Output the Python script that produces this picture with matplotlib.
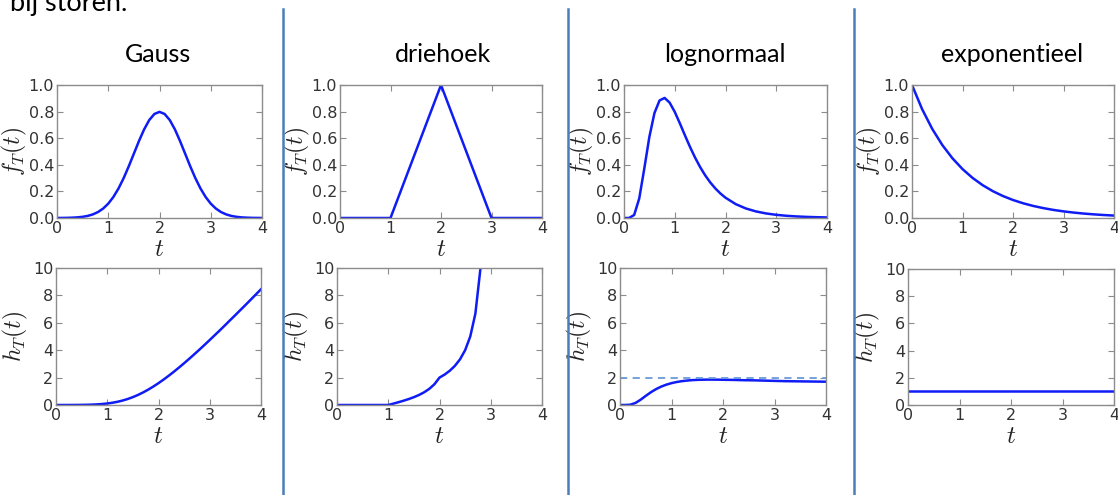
import matplotlib
matplotlib.use("Agg")
import matplotlib.pyplot as plt

plt.rcParams["mathtext.fontset"] = "cm"

W, H = 1118, 495

# ---- data -------------------------------------------------------------
titles = ["Gauss", "driehoek", "lognormaal", "exponentieel"]
t_ticks = [0, 1, 2, 3, 4]
f_ticks = [0.0, 0.2, 0.4, 0.6, 0.8, 1.0]
h_ticks = [0, 2, 4, 6, 8, 10]

t_fine = [0.0, 0.1, 0.2, 0.3, 0.4, 0.5, 0.6, 0.7, 0.8, 0.9, 1.0,
          1.1, 1.2, 1.3, 1.4, 1.5, 1.6, 1.7, 1.8, 1.9, 2.0,
          2.1, 2.2, 2.3, 2.4, 2.5, 2.6, 2.7, 2.8, 2.9, 3.0,
          3.1, 3.2, 3.3, 3.4, 3.5, 3.6, 3.7, 3.8, 3.9, 4.0]

gauss_f = [0.0003, 0.0006, 0.0012, 0.0025, 0.0048, 0.0089, 0.0158, 0.0272,
           0.0448, 0.0709, 0.1080, 0.1579, 0.2218, 0.2994, 0.3885, 0.4839,
           0.5793, 0.6664, 0.7365, 0.7821, 0.7979, 0.7821, 0.7365, 0.6664,
           0.5793, 0.4839, 0.3885, 0.2994, 0.2218, 0.1579, 0.1080, 0.0709,
           0.0448, 0.0272, 0.0158, 0.0089, 0.0048, 0.0025, 0.0012, 0.0006,
           0.0003]
gauss_h = [0.0003, 0.0006, 0.0012, 0.0025, 0.0048, 0.0089, 0.0159, 0.0273,
           0.0452, 0.0719, 0.1105, 0.1638, 0.2347, 0.3258, 0.4389, 0.5752,
           0.7351, 0.9183, 1.1238, 1.3501, 1.5958, 1.8588, 2.1375, 2.4300,
           2.7347, 3.0503, 3.3752, 3.7080, 4.0482, 4.3947, 4.7464, 5.1036,
           5.461, 5.828, 6.200, 6.566, 6.94, 7.31, 7.69, 8.07, 8.45]

tri_t = [0, 1, 2, 3, 4]
tri_f = [0, 0, 1, 0, 0]
tri_h_t = [0.0, 1.0, 1.1, 1.2, 1.3, 1.4, 1.5, 1.6, 1.7, 1.8, 1.9, 2.0,
           2.1, 2.2, 2.3, 2.4, 2.5, 2.6, 2.7, 2.8, 2.9]
tri_h = [0.0, 0.0, 0.1005, 0.2041, 0.3141, 0.4348, 0.5714, 0.7317, 0.9272,
         1.1765, 1.5126, 2.0, 2.222, 2.5, 2.857, 3.333, 4.0, 5.0, 6.667,
         10.0, 20.0]

logn_t = [0.0, 0.1, 0.2, 0.3, 0.4, 0.5, 0.6, 0.7, 0.8, 0.9, 1.0,
          1.1, 1.2, 1.3, 1.4, 1.5, 1.6, 1.7, 1.8, 1.9, 2.0,
          2.2, 2.4, 2.6, 2.8, 3.0, 3.2, 3.4, 3.6, 3.8, 4.0]
logn_f = [0.0, 0.0002, 0.0225, 0.1464, 0.3720, 0.6104, 0.7891, 0.8837,
          0.9028, 0.8670, 0.7979, 0.7123, 0.6222, 0.5348, 0.4545, 0.3829,
          0.3206, 0.2673, 0.2221, 0.1842, 0.1526, 0.1046, 0.0718, 0.0494,
          0.0342, 0.0238, 0.0167, 0.0117, 0.0083, 0.0059, 0.0043]
logn_h = [0.0, 0.0002, 0.0225, 0.1476, 0.3849, 0.6655, 0.9322, 1.1595,
          1.3428, 1.4860, 1.5958, 1.6783, 1.7395, 1.7833, 1.8144, 1.8345,
          1.8467, 1.8524, 1.8525, 1.849, 1.8423, 1.83, 1.81, 1.80, 1.78,
          1.76, 1.74, 1.73, 1.72, 1.71, 1.70]
logn_h_limit = 2.0

exp_t = [0.0, 0.2, 0.4, 0.6, 0.8, 1.0, 1.2, 1.4, 1.6, 1.8, 2.0,
         2.2, 2.4, 2.6, 2.8, 3.0, 3.2, 3.4, 3.6, 3.8, 4.0]
exp_f = [1.0, 0.8187, 0.6703, 0.5488, 0.4493, 0.3679, 0.3012, 0.2466,
         0.2019, 0.1653, 0.1353, 0.1108, 0.0907, 0.0743, 0.0608, 0.0498,
         0.0408, 0.0334, 0.0273, 0.0224, 0.0183]
exp_h_t = [0, 4]
exp_h = [1.0, 1.0]

f_series = [(t_fine, gauss_f), (tri_t, tri_f), (logn_t, logn_f), (exp_t, exp_f)]
h_series = [(t_fine, gauss_h), (tri_h_t, tri_h), (logn_t, logn_h), (exp_h_t, exp_h)]

# ---- layout (pixel boxes: left, right, top, bottom) -------------------
top_boxes = [(57, 262, 85, 218), (340, 542, 85, 218),
             (624, 827, 85, 218), (912, 1114, 85, 218)]
bot_boxes = [(56, 261, 268, 405), (337, 542, 268, 405),
             (620, 826, 268, 405), (908, 1114, 269, 405)]
title_x = [158, 443, 725, 1012]
sep_x = [283, 568, 854]

LINE = "#0f1cf5"
SPINE = "#8c8c8c"
TICKTXT = "#333333"
SEP = "#4a7ebb"

fig = plt.figure(figsize=(W / 100, H / 100), dpi=100)
fig.patch.set_facecolor("white")


def box_to_rect(b):
    l, r, t, bt = b
    return [l / W, 1 - bt / H, (r - l) / W, (bt - t) / H]


def style_axes(ax, yticks, ylim, yfmt):
    ax.set_xlim(0, 4)
    ax.set_ylim(*ylim)
    ax.set_xticks(t_ticks)
    ax.set_yticks(yticks)
    ax.set_xticklabels([str(v) for v in t_ticks])
    ax.set_yticklabels([yfmt(v) for v in yticks])
    ax.tick_params(direction="in", top=True, right=True, length=4,
                   width=0.8, color=SPINE, labelsize=11.5,
                   labelcolor=TICKTXT, pad=2)
    for s in ax.spines.values():
        s.set_color(SPINE)
        s.set_linewidth(1.0)
    ax.set_xlabel("$t$", fontsize=18, labelpad=1, color="#222222")


for i in range(4):
    axf = fig.add_axes(box_to_rect(top_boxes[i]))
    tx, ty = f_series[i]
    axf.plot(tx, ty, color=LINE, lw=1.8, clip_on=True)
    style_axes(axf, f_ticks, (0, 1), lambda v: f"{v:.1f}")
    axf.set_ylabel("$f_T(t)$", fontsize=17, labelpad=0, color="#222222")

    axh = fig.add_axes(box_to_rect(bot_boxes[i]))
    tx, ty = h_series[i]
    axh.plot(tx, ty, color=LINE, lw=1.8)
    if i == 2:
        axh.axhline(logn_h_limit, color="#6a9ad8", lw=1.3, ls=(0, (4, 3)))
    style_axes(axh, h_ticks, (0, 10), lambda v: f"{v:d}")
    axh.set_ylabel("$h_T(t)$", fontsize=17, labelpad=2, color="#222222")

    fig.text(title_x[i] / W, 1 - 55 / H, titles[i], family="Lato",
             fontsize=18, ha="center", va="center", color="black")

for x in sep_x:
    fig.add_artist(plt.Line2D([x / W, x / W], [0, 1 - 9 / H],
                              color=SEP, lw=1.8, transform=fig.transFigure))

fig.text(10 / W, 1 - 11 / H, "bij storen.", family="Lato", fontsize=19.5,
         ha="left", va="baseline", color="black")

fig.savefig("out.png", dpi=100, facecolor="white")
